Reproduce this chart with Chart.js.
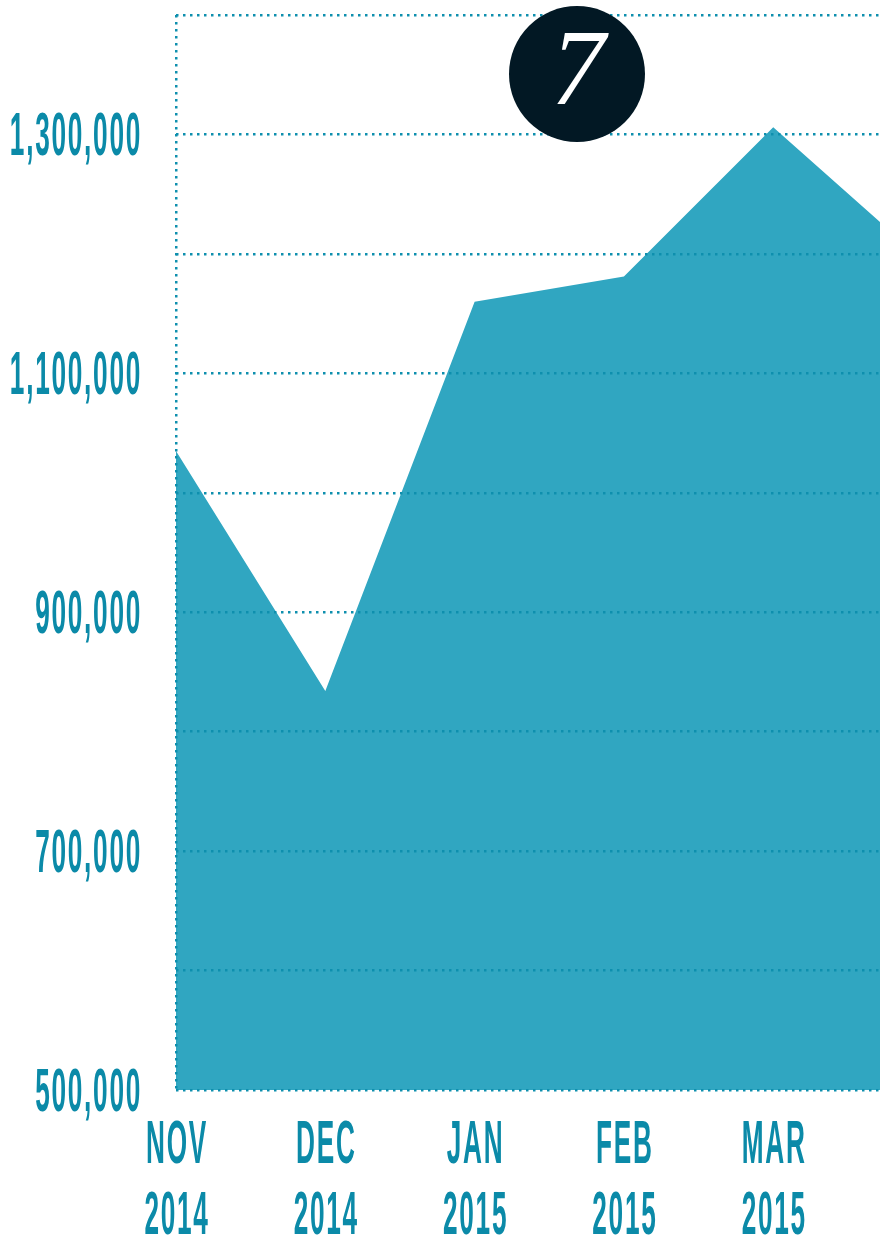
<!DOCTYPE html>
<html>
<head>
<meta charset="utf-8">
<script src="https://cdn.jsdelivr.net/npm/chart.js@4/dist/chart.umd.min.js"></script>
<style>
  html, body { margin: 0; padding: 0; background: #fff; }
  #wrap { width: 880px; height: 1241px; position: relative; }
</style>
</head>
<body>
<div id="wrap"><canvas id="ventas"></canvas></div>
<script>
// datos
var meses = ['NOV', 'DEC', 'JAN', 'FEB', 'MAR', 'APR'];
var anios = ['2014', '2014', '2015', '2015', '2015', '2015'];
var valores = [1035000, 834000, 1160000, 1181000, 1306000, 1195000];
var etiquetasY = [500000, 700000, 900000, 1100000, 1300000];
var insignia = '7';

var colorTexto = '#0b8aa8';
var colorRelleno = '#30a6c1';
var colorPuntos = '#0e8fae';

function escribirEstrecho(ctx, texto, x, y, align) {
  ctx.save();
  ctx.translate(x, y);
  ctx.scale(0.43, 1);
  ctx.letterSpacing = '4px';
  ctx.textAlign = align;
  ctx.fillText(texto, 0, 0);
  ctx.restore();
}

var etiquetas = {
  id: 'etiquetas',
  afterDraw: function(chart) {
    var ctx = chart.ctx;
    var sx = chart.scales.x, sy = chart.scales.y;
    ctx.save();
    ctx.fillStyle = colorTexto;
    ctx.textBaseline = 'middle';
    ctx.font = 'bold 61px "Liberation Sans", sans-serif';
    etiquetasY.forEach(function(v) {
      escribirEstrecho(ctx, v.toLocaleString('en-US'), 142, sy.getPixelForValue(v) + 4, 'right');
    });
    for (var i = 0; i < meses.length; i++) {
      var px = sx.getPixelForValue(i);
      if (px > chart.chartArea.right) continue;
      escribirEstrecho(ctx, meses[i], px + 1, 1146, 'center');
      escribirEstrecho(ctx, anios[i], px + 1, 1217, 'center');
    }
    // circulo con el numero
    ctx.fillStyle = '#021824';
    ctx.beginPath();
    ctx.arc(577, 74, 68, 0, Math.PI * 2);
    ctx.fill();
    ctx.fillStyle = '#ffffff';
    ctx.textAlign = 'center';
    ctx.font = 'italic 108px "Liberation Serif", "DejaVu Serif", serif';
    ctx.fillText(insignia, 578, 76);
    ctx.restore();
  }
};

window.onload = function() {
  var puntos = [];
  for (var i = 0; i < valores.length; i++) {
    puntos.push({ x: i, y: valores[i] });
  }
  var ctx = document.getElementById('ventas').getContext('2d');
  var grafica = new Chart(ctx, {
    type: 'line',
    data: {
      datasets: [{
        data: puntos,
        backgroundColor: colorRelleno,
        borderWidth: 0,
        pointRadius: 0,
        fill: 'start',
        tension: 0
      }]
    },
    options: {
      responsive: true,
      maintainAspectRatio: false,
      animation: false,
      layout: { padding: { top: 15, right: 0, left: 0, bottom: 0 } },
      plugins: { legend: { display: false }, tooltip: { enabled: false } },
      scales: {
        x: {
          type: 'linear',
          min: 0,
          max: 4.715,
          afterFit: function(s) { s.height = 151; },
          ticks: { display: false, stepSize: 1 },
          grid: {
            z: 1,
            lineWidth: 2.5,
            drawTicks: false,
            color: function(c) { return c.tick && c.tick.value === 0 ? colorPuntos : 'rgba(0,0,0,0)'; }
          },
          border: { display: false, dash: [2.5, 4.5] }
        },
        y: {
          min: 500000,
          max: 1400000,
          afterFit: function(s) { s.width = 176; },
          ticks: { display: false, stepSize: 100000 },
          grid: { color: colorPuntos, lineWidth: 2.5, z: 1, drawTicks: false },
          border: { display: false, dash: [2.5, 4.5] }
        }
      }
    },
    plugins: [etiquetas]
  });
};
</script>
</body>
</html>
